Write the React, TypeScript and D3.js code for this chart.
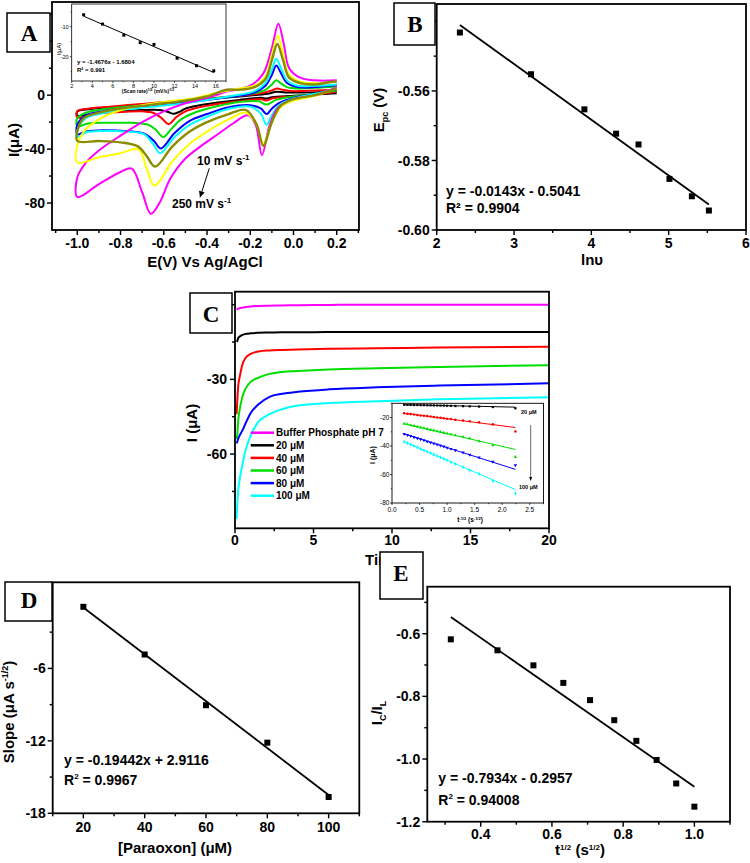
import React from 'react';
import * as d3 from 'd3';

const SANS = "'Liberation Sans', Arial, Helvetica, sans-serif";
const SERIF = "'Liberation Serif', 'Times New Roman', serif";
const MU = 'μ';

// ---------------- Panel A : cyclic voltammograms [E (V), I (uA)] ----------------
// cathodic sweep (0.2 -> -1.0) followed by anodic sweep (-1.0 -> 0.2)
const cvBlack: [number, number][] = [
  [0.2, 1.5], [0.1, 0.5], [0, -0.5], [-0.1, -1.5], [-0.125, -2.5], [-0.15, -2], [-0.25, -3.5], [-0.35, -5.5],
  [-0.45, -8], [-0.5, -10], [-0.53, -12.5], [-0.555, -13.8], [-0.58, -12.5], [-0.62, -11], [-0.7, -11],
  [-0.8, -12], [-0.9, -13], [-1.0, -15],
  [-1.0, -12], [-0.95, -10.5], [-0.85, -9], [-0.7, -7], [-0.55, -5], [-0.4, -3], [-0.25, -1], [-0.12, 1],
  [-0.08, 2.5], [-0.04, 2], [0.05, 2], [0.2, 3],
];
const cvRed: [number, number][] = [
  [0.2, 2.5], [0.1, 0.5], [0, -1], [-0.1, -2.5], [-0.125, -4], [-0.15, -3], [-0.25, -4.5], [-0.35, -6.5],
  [-0.45, -9.5], [-0.5, -12], [-0.54, -16], [-0.578, -21.5], [-0.61, -17], [-0.65, -13], [-0.7, -12],
  [-0.8, -12.5], [-0.9, -13.5], [-1.0, -16.5],
  [-1.0, -12], [-0.95, -10], [-0.85, -8.5], [-0.7, -6.5], [-0.55, -4.5], [-0.4, -2.5], [-0.25, -0.5],
  [-0.15, 1.5], [-0.1, 3.5], [-0.075, 5], [-0.05, 4], [0, 3], [0.1, 3.5], [0.2, 4],
];
const cvGreen: [number, number][] = [
  [0.2, 3.5], [0.1, 1], [0.0, -1], [-0.08, -3.5], [-0.125, -7], [-0.16, -4.5], [-0.25, -5], [-0.35, -8],
  [-0.45, -12.5], [-0.52, -18], [-0.565, -25], [-0.602, -31], [-0.635, -26], [-0.67, -22], [-0.75, -20.5],
  [-0.85, -20.5], [-0.95, -21], [-1.0, -23],
  [-1.0, -17], [-0.96, -13], [-0.9, -11], [-0.8, -9], [-0.65, -7], [-0.5, -5], [-0.4, -3], [-0.28, -1],
  [-0.18, 1.5], [-0.13, 4], [-0.1, 8], [-0.08, 11], [-0.06, 9], [-0.03, 6], [0.02, 5], [0.1, 5.5], [0.2, 6.5],
];
const cvBlue: [number, number][] = [
  [0.2, 4.5], [0.1, 1], [0.0, -2], [-0.07, -6], [-0.1, -10], [-0.125, -14], [-0.15, -10], [-0.2, -7.5],
  [-0.3, -9], [-0.4, -14], [-0.48, -19], [-0.55, -28], [-0.614, -39.5], [-0.645, -34], [-0.69, -28.5],
  [-0.78, -26.5], [-0.88, -26], [-0.96, -27], [-1.0, -29],
  [-1.0, -22], [-0.96, -15], [-0.9, -12.5], [-0.8, -10], [-0.65, -8], [-0.5, -5.5], [-0.4, -3.5], [-0.28, -1],
  [-0.18, 2], [-0.13, 7], [-0.1, 15], [-0.08, 22], [-0.06, 17], [-0.03, 9], [0.02, 6], [0.1, 6], [0.2, 7.5],
];
const cvCyan: [number, number][] = [
  [0.2, 5], [0.1, 1], [0.0, -2.5], [-0.07, -8], [-0.1, -15], [-0.125, -22], [-0.15, -14], [-0.2, -8.5],
  [-0.3, -10], [-0.4, -16], [-0.48, -22], [-0.55, -31], [-0.617, -43], [-0.65, -36], [-0.69, -29],
  [-0.78, -27], [-0.88, -26.5], [-0.96, -27.5], [-1.0, -31],
  [-1.0, -26], [-0.96, -17], [-0.9, -14], [-0.8, -11], [-0.65, -8.5], [-0.5, -6], [-0.4, -3.5], [-0.28, -0.5],
  [-0.18, 3], [-0.13, 9], [-0.1, 19], [-0.08, 27], [-0.06, 21], [-0.03, 11], [0.02, 7], [0.1, 7], [0.2, 8],
];
const cvOlive: [number, number][] = [
  [0.2, 5], [0.1, 0], [0.0, -3], [-0.06, -8], [-0.1, -20], [-0.14, -37.5], [-0.17, -22], [-0.22, -11],
  [-0.3, -14], [-0.4, -20], [-0.48, -27], [-0.56, -38], [-0.64, -53], [-0.68, -45], [-0.72, -38],
  [-0.8, -35], [-0.9, -34], [-1.0, -34],
  [-1.0, -27], [-0.97, -17], [-0.9, -13], [-0.8, -10], [-0.65, -7], [-0.5, -4], [-0.4, -1], [-0.31, 4],
  [-0.25, 4], [-0.18, 6], [-0.13, 12], [-0.1, 26], [-0.075, 38], [-0.05, 27], [-0.02, 13], [0.03, 9],
  [0.1, 8], [0.18, 10], [0.2, 10],
];
const cvYellow: [number, number][] = [
  [0.2, 5], [0.1, -0.5], [0.0, -4], [-0.06, -9], [-0.1, -20], [-0.14, -36], [-0.17, -22], [-0.22, -13],
  [-0.3, -18], [-0.4, -27], [-0.48, -36], [-0.56, -49], [-0.643, -67], [-0.68, -54], [-0.717, -40],
  [-0.8, -43], [-0.9, -46], [-1.0, -50],
  [-1.0, -37], [-0.97, -27], [-0.92, -20], [-0.85, -14], [-0.75, -9], [-0.6, -5], [-0.45, -2], [-0.35, 2],
  [-0.25, 5], [-0.18, 7], [-0.13, 14], [-0.1, 30], [-0.072, 44], [-0.05, 32], [-0.02, 15], [0.03, 10],
  [0.1, 9], [0.2, 10],
];
const cvMagenta: [number, number][] = [
  [0.2, 6], [0.1, 0], [0.0, -3], [-0.07, -9], [-0.11, -22], [-0.146, -44.5], [-0.175, -22], [-0.21, -15],
  [-0.28, -21], [-0.35, -29], [-0.43, -38], [-0.5, -47], [-0.57, -62], [-0.62, -80], [-0.66, -88],
  [-0.7, -72], [-0.748, -54.5], [-0.8, -57], [-0.9, -66], [-1.0, -75.5],
  [-1.0, -61], [-0.96, -50], [-0.9, -41], [-0.8, -30], [-0.7, -20], [-0.6, -12], [-0.5, -6], [-0.4, -2],
  [-0.3, 3], [-0.2, 7], [-0.14, 16], [-0.1, 35], [-0.07, 53], [-0.045, 38], [-0.02, 20], [0.03, 13],
  [0.1, 11], [0.2, 11],
];
const cvSeries = [
  { rate: 10, color: '#000000', pts: cvBlack },
  { rate: 25, color: '#ff0000', pts: cvRed },
  { rate: 50, color: '#00dd00', pts: cvGreen },
  { rate: 75, color: '#0000ff', pts: cvBlue },
  { rate: 100, color: '#00ffff', pts: cvCyan },
  { rate: 250, color: '#ff00ff', pts: cvMagenta },
  { rate: 200, color: '#ffff00', pts: cvYellow },
  { rate: 150, color: '#8b8b00', pts: cvOlive },
];

// Panel A inset
const scanRateSqrt = [3.16, 5.0, 7.07, 8.66, 10.0, 12.25, 14.14, 15.81];
const insetIpc = [-6.0, -9.1, -12.8, -15.3, -15.9, -20.5, -23.0, -24.7];

// ---------------- Panel B ----------------
const lnScanRate = [2.30, 3.22, 3.91, 4.32, 4.61, 5.01, 5.30, 5.52];
const epc = [-0.5432, -0.5552, -0.5653, -0.5723, -0.5754, -0.5853, -0.5903, -0.5944];

// ---------------- Panel C : chronoamperograms ----------------
const chronoTime = [0.1, 0.15, 0.2, 0.3, 0.45, 0.65, 1, 1.5, 2.2, 3, 4, 6, 9, 13, 20];
const iBuffer = [-2, -1.8, -1.6, -1.4, -1.2, -1, -0.7, -0.5, -0.4, -0.3, -0.2, -0.1, 0, 0, 0];
const i20 = [-14.9, -14.5, -13.5, -12.8, -12.2, -11.8, -11.5, -11.3, -11.2, -11.1, -11.1, -11.0, -11.0, -11.0, -11.0];
const i40 = [-44, -38, -33, -29, -24.5, -21.6, -19.8, -18.8, -18.4, -18.2, -18.0, -17.7, -17.5, -17.2, -16.9];
const i60 = [-54, -52, -47, -42, -37.5, -34, -31, -29.3, -27.8, -27, -26.6, -26, -25.5, -25, -24.3];
const i80 = [-55.7, -55, -54, -52.5, -50.8, -48, -43.5, -40, -37, -35.8, -35, -34, -33.2, -32.5, -31.6];
const i100 = [-86, -80, -75, -70, -65, -59, -52.5, -47, -44, -42, -40.5, -39.5, -38.8, -38, -37.2];
const chronoLabels = ['Buffer Phosphate pH 7', '20 μM', '40 μM', '60 μM', '80 μM', '100 μM'];
const chronoColors = ['#ff00ff', '#000000', '#ff0000', '#00dd00', '#0000ff', '#00ffff'];
const chronoSeries = [iBuffer, i20, i40, i60, i80, i100];

// Panel C inset : I vs t^-1/2
const invSqrtT = [0.22, 0.28, 0.34, 0.40, 0.46, 0.52, 0.58, 0.64, 0.70, 0.76, 0.82, 0.88, 0.94, 1.00, 1.07, 1.15, 1.29, 1.41, 1.58, 1.83, 2.24];
const inBlack = [-11.0, -11.1, -11.1, -11.2, -11.2, -11.3, -11.3, -11.4, -11.4, -11.5, -11.5, -11.6, -11.6, -11.7, -11.8, -11.9, -12.0, -12.1, -12.3, -12.6, -13.5];
const inRed = [-17.0, -17.3, -17.6, -17.9, -18.2, -18.5, -18.8, -19.0, -19.3, -19.6, -19.9, -20.2, -20.5, -20.8, -21.1, -21.5, -22.1, -22.6, -23.3, -24.8, -29.8];
const inGreen = [-24.3, -24.8, -25.4, -25.9, -26.4, -27.0, -27.5, -28.0, -28.6, -29.1, -29.6, -30.2, -30.7, -31.3, -31.8, -32.5, -33.6, -34.6, -36.6, -39.5, -47.7];
const inBlue = [-31.5, -32.2, -33.0, -33.8, -34.6, -35.3, -36.0, -36.8, -37.5, -38.2, -39.0, -39.7, -40.4, -41.2, -42.0, -43.0, -44.6, -46.1, -48.0, -51.0, -53.5];
const inCyan = [-37.0, -38.0, -39.0, -40.0, -41.0, -42.0, -43.0, -44.0, -45.0, -46.0, -47.0, -48.0, -49.0, -50.0, -51.3, -52.6, -54.9, -57.0, -59.6, -64.5, -73.2];
const inFitX = [0.22, 2.24];
const inFitY = [[-11.0, -12.7], [-17.0, -27.0], [-24.3, -42.4], [-31.5, -56.4], [-37.0, -70.6]];
const inSeries = [inBlack, inRed, inGreen, inBlue, inCyan];
const inColors = ['#000000', '#ff0000', '#00dd00', '#0000ff', '#00ffff'];

// ---------------- Panel D ----------------
const paraoxon = [20, 40, 60, 80, 100];
const slopeVals = [-0.9, -4.85, -9.05, -12.15, -16.65];

// ---------------- Panel E ----------------
const sqrtT = [0.316, 0.447, 0.548, 0.632, 0.707, 0.775, 0.837, 0.894, 0.949, 1.0];
const icil = [-0.618, -0.653, -0.701, -0.757, -0.812, -0.876, -0.942, -1.003, -1.078, -1.152];

// ---------------- helpers ----------------
type Fr = { x0: number; y0: number; x1: number; y1: number };
type Lin = d3.ScaleLinear<number, number>;

function linfit(xs: number[], ys: number[]) {
  const mx = d3.mean(xs) as number;
  const my = d3.mean(ys) as number;
  let sxy = 0, sxx = 0;
  xs.forEach((x, i) => { sxy += (x - mx) * (ys[i] - my); sxx += (x - mx) * (x - mx); });
  const m = sxy / sxx;
  return { m, b: my - m * mx };
}

function scales(fr: Fr, xd: [number, number], yd: [number, number]) {
  return {
    x: d3.scaleLinear().domain(xd).range([fr.x0, fr.x1]),
    y: d3.scaleLinear().domain(yd).range([fr.y1, fr.y0]),
  };
}

function Axes(p: {
  fr: Fr; x: Lin; y: Lin; xMajor: number[]; xMinor: number[]; yMajor: number[]; yMinor: number[];
  fx: (v: number) => string; fy: (v: number) => string; fs: number; weight?: string;
  tl: number; tm: number; sw: number; xlab: number; ylab: number; yHide?: number[];
}) {
  const { fr, x, y } = p;
  const hide = p.yHide ?? [];
  return (
    <g fontFamily={SANS} fontWeight={p.weight ?? 'bold'} fontSize={p.fs} fill="#000">
      {p.xMinor.map((v) => (
        <line key={'xm' + v} x1={x(v)} x2={x(v)} y1={fr.y1} y2={fr.y1 + p.tm} stroke="#000" strokeWidth={p.sw * 0.8} />
      ))}
      {p.xMajor.map((v) => (
        <g key={'xM' + v}>
          <line x1={x(v)} x2={x(v)} y1={fr.y1} y2={fr.y1 + p.tl} stroke="#000" strokeWidth={p.sw * 0.8} />
          <text x={x(v)} y={fr.y1 + p.xlab} textAnchor="middle">{p.fx(v)}</text>
        </g>
      ))}
      {p.yMinor.map((v) => (
        <line key={'ym' + v} x1={fr.x0 - p.tm} x2={fr.x0} y1={y(v)} y2={y(v)} stroke="#000" strokeWidth={p.sw * 0.8} />
      ))}
      {p.yMajor.map((v) => (
        <g key={'yM' + v}>
          <line x1={fr.x0 - p.tl} x2={fr.x0} y1={y(v)} y2={y(v)} stroke="#000" strokeWidth={p.sw * 0.8} />
          {hide.indexOf(v) < 0 && (
            <text x={fr.x0 - p.ylab} y={y(v) + p.fs * 0.36} textAnchor="end">{p.fy(v)}</text>
          )}
        </g>
      ))}
      <rect x={fr.x0} y={fr.y0} width={fr.x1 - fr.x0} height={fr.y1 - fr.y0} fill="none" stroke="#000" strokeWidth={p.sw} />
    </g>
  );
}

function LabelBox({ fr, letter, cx, base }: { fr: Fr; letter: string; cx: number; base: number }) {
  return (
    <g>
      <rect x={fr.x0} y={fr.y0} width={fr.x1 - fr.x0} height={fr.y1 - fr.y0} fill="#fff" stroke="#000" strokeWidth={1.5} />
      <text x={cx} y={base} textAnchor="middle" fontFamily={SERIF} fontWeight="bold" fontSize={23}>{letter}</text>
    </g>
  );
}

const f0 = (v: number) => v.toFixed(0);
const f1 = (v: number) => v.toFixed(1);
const f2 = (v: number) => v.toFixed(2);

export default function App() {
  // ---------- Panel A ----------
  const frA: Fr = { x0: 52, y0: 2, x1: 359, y1: 230 };
  const A = scales(frA, [-1.117, 0.303], [-100, 69.1]);
  const cvLine = d3.line<[number, number]>().x((d) => A.x(d[0])).y((d) => A.y(d[1])).curve(d3.curveCatmullRom.alpha(0.5));

  const frAi: Fr = { x0: 71.7, y0: 4, x1: 226, y1: 81 };
  const Ai = scales(frAi, [2, 17], [-28.1, -2.4]);
  const fitAi = linfit(scanRateSqrt, insetIpc);
  const aiX0 = d3.min(scanRateSqrt) as number, aiX1 = d3.max(scanRateSqrt) as number;

  // ---------- Panel B ----------
  const frB: Fr = { x0: 436.7, y0: 4, x1: 746, y1: 230 };
  const B = scales(frB, [2, 6], [-0.6, -0.535]);
  const fitB = linfit(lnScanRate, epc);
  const bX0 = d3.min(lnScanRate) as number, bX1 = d3.max(lnScanRate) as number;

  // ---------- Panel C ----------
  const frC: Fr = { x0: 235, y0: 291.7, x1: 549, y1: 528.3 };
  const C = scales(frC, [0, 20], [-89.8, 5.2]);
  const chronoLine = d3.line<number>().x((_, i) => C.x(chronoTime[i])).y((d) => C.y(d)).curve(d3.curveMonotoneX);

  const frCi: Fr = { x0: 392, y0: 403.3, x1: 543.5, y1: 503 };
  const Ci = scales(frCi, [0, 2.75], [-80, -10]);
  const symTypes = [d3.symbolSquare, d3.symbolCircle, d3.symbolTriangle, d3.symbolTriangle, d3.symbolDiamond];
  const symRot = [0, 0, 0, 180, 0];

  // ---------- Panel D ----------
  const frD: Fr = { x0: 52.7, y0: 582.3, x1: 359.3, y1: 813.3 };
  const D = scales(frD, [10, 110], [-18, 1.13]);
  const fitD = linfit(paraoxon, slopeVals);

  // ---------- Panel E ----------
  const frE: Fr = { x0: 427.3, y0: 586.7, x1: 730, y1: 821.7 };
  const E = scales(frE, [0.25, 1.1], [-1.2, -0.45]);
  const fitE = linfit(sqrtT, icil);
  const eX0 = d3.min(sqrtT) as number, eX1 = d3.max(sqrtT) as number;

  // arrow in panel A
  const arS = { x: 209.3, y: 168.3 }, arE = { x: 200, y: 197.3 };
  const ang = Math.atan2(arE.y - arS.y, arE.x - arS.x);
  const ah = 6, aw = 3;
  const head = [
    [arE.x, arE.y],
    [arE.x - ah * Math.cos(ang) + aw * Math.sin(ang), arE.y - ah * Math.sin(ang) - aw * Math.cos(ang)],
    [arE.x - ah * Math.cos(ang) - aw * Math.sin(ang), arE.y - ah * Math.sin(ang) + aw * Math.cos(ang)],
  ].map((p) => p.join(',')).join(' ');

  const ciArX = 530.7;

  return (
    <svg width={750} height={863} style={{ position: 'absolute', left: 0, top: 0 }} fontFamily={SANS}>
      <rect x={0} y={0} width={750} height={863} fill="#fff" />

      {/* ================= Panel A ================= */}
      <g>
        {cvSeries.map((s) => (
          <path key={s.rate} d={cvLine(s.pts) as string} fill="none" stroke={s.color}
            strokeWidth={s.rate === 150 ? 2.4 : 2} strokeLinejoin="round" />
        ))}
        <Axes fr={frA} x={A.x} y={A.y}
          xMajor={[-1.0, -0.8, -0.6, -0.4, -0.2, 0.0, 0.2]} xMinor={[-1.1, -0.9, -0.7, -0.5, -0.3, -0.1, 0.1, 0.3]}
          yMajor={[-80, -40, 0, 40]} yMinor={[-60, -20, 20, 60]} yHide={[40]}
          fx={f1} fy={f0} fs={14} tl={5} tm={3} sw={1.8} xlab={18} ylab={7} />
        <text x={205} y={267} textAnchor="middle" fontWeight="bold" fontSize={15}>E(V) Vs Ag/AgCl</text>
        <text transform="translate(19,140) rotate(-90)" textAnchor="middle" fontWeight="bold" fontSize={15}>{`I(${MU}A)`}</text>

        <text x={197} y={165} fontWeight="bold" fontSize={12}>10 mV s<tspan dy={-5} fontSize={8}>-1</tspan></text>
        <text x={172} y={208} fontWeight="bold" fontSize={12}>250 mV s<tspan dy={-5} fontSize={8}>-1</tspan></text>
        <line x1={arS.x} y1={arS.y} x2={arE.x} y2={arE.y} stroke="#000" strokeWidth={1} />
        <polygon points={head} fill="#000" />

        {/* inset */}
        <rect x={frAi.x0} y={frAi.y0} width={frAi.x1 - frAi.x0} height={frAi.y1 - frAi.y0} fill="#fff" />
        <line x1={Ai.x(aiX0)} y1={Ai.y(fitAi.m * aiX0 + fitAi.b)} x2={Ai.x(aiX1)} y2={Ai.y(fitAi.m * aiX1 + fitAi.b)}
          stroke="#000" strokeWidth={1} />
        {scanRateSqrt.map((v, i) => (
          <rect key={i} x={Ai.x(v) - 1.5} y={Ai.y(insetIpc[i]) - 1.5} width={3} height={3} fill="#000" />
        ))}
        <Axes fr={frAi} x={Ai.x} y={Ai.y}
          xMajor={[2, 4, 6, 8, 10, 12, 14, 16]} xMinor={[3, 5, 7, 9, 11, 13, 15, 17]}
          yMajor={[-10, -20]} yMinor={[-5, -15, -25]}
          fx={f0} fy={f0} fs={5.5} weight="normal" tl={2} tm={1.2} sw={0.8} xlab={7} ylab={3} />
        <text x={77} y={64} fontWeight="bold" fontSize={6}>y = -1.4676x - 1.6804</text>
        <text x={77} y={72.3} fontWeight="bold" fontSize={6}>R² = 0.991</text>
        <text x={148} y={93} textAnchor="middle" fontWeight="bold" fontSize={5}>
          (Scan rate)<tspan dy={-2} fontSize={3.5}>1/2</tspan><tspan dy={2}> (mV/s)</tspan><tspan dy={-2} fontSize={3.5}>1/2</tspan>
        </text>
        <text transform="translate(60.5,49) rotate(-90)" textAnchor="middle" fontSize={5.5}>{`I(${MU}A)`}</text>
      </g>

      {/* ================= Panel B ================= */}
      <g>
        <line x1={B.x(bX0)} y1={B.y(fitB.m * bX0 + fitB.b)} x2={B.x(bX1)} y2={B.y(fitB.m * bX1 + fitB.b)}
          stroke="#000" strokeWidth={1.8} />
        {lnScanRate.map((v, i) => (
          <rect key={i} x={B.x(v) - 3} y={B.y(epc[i]) - 3} width={6} height={6} fill="#000" />
        ))}
        <Axes fr={frB} x={B.x} y={B.y}
          xMajor={[2, 3, 4, 5, 6]} xMinor={[2.5, 3.5, 4.5, 5.5]}
          yMajor={[-0.6, -0.58, -0.56, -0.54]} yMinor={[-0.59, -0.57, -0.55]} yHide={[-0.54]}
          fx={f0} fy={f2} fs={14} tl={5} tm={3} sw={1.8} xlab={18} ylab={7} />
        <text x={446} y={196} fontWeight="bold" fontSize={14}>y = -0.0143x - 0.5041</text>
        <text x={446} y={213} fontWeight="bold" fontSize={14}>R² = 0.9904</text>
        <text x={592} y={265} textAnchor="middle" fontWeight="bold" fontSize={15}>lnυ</text>
        <text transform="translate(384,110) rotate(-90)" textAnchor="middle" fontWeight="bold" fontSize={15}>
          E<tspan dy={4} fontSize={9}>pc</tspan><tspan dy={-4}> (V)</tspan>
        </text>
      </g>

      {/* ================= Panel C ================= */}
      <g>
        {chronoSeries.map((s, i) => (
          <path key={i} d={chronoLine(s) as string} fill="none" stroke={chronoColors[i]} strokeWidth={2} />
        ))}
        <Axes fr={frC} x={C.x} y={C.y}
          xMajor={[0, 5, 10, 15, 20]} xMinor={[2.5, 7.5, 12.5, 17.5]}
          yMajor={[-60, -30, 0]} yMinor={[-75, -45, -15]} yHide={[0]}
          fx={f0} fy={f0} fs={14} tl={5} tm={3} sw={1.8} xlab={17} ylab={8} />
        <text x={365} y={565} fontWeight="bold" fontSize={15}>Time (s)</text>
        <text transform="translate(197,423) rotate(-90)" textAnchor="middle" fontWeight="bold" fontSize={15}>{`I (${MU}A)`}</text>
        {chronoLabels.map((lab, i) => {
          const yy = 432.7 + i * 12.6;
          return (
            <g key={lab}>
              <line x1={250.7} x2={274} y1={yy} y2={yy} stroke={chronoColors[i]} strokeWidth={2.5} />
              <text x={276} y={yy + 3.6} fontWeight="bold" fontSize={10}>{lab}</text>
            </g>
          );
        })}

        {/* inset */}
        <rect x={frCi.x0} y={frCi.y0} width={frCi.x1 - frCi.x0} height={frCi.y1 - frCi.y0} fill="#fff" />
        {inFitY.map((fy, i) => (
          <line key={'fit' + i} x1={Ci.x(inFitX[0])} y1={Ci.y(fy[0])} x2={Ci.x(inFitX[1])} y2={Ci.y(fy[1])}
            stroke={inColors[i]} strokeWidth={1} />
        ))}
        {inSeries.map((s, k) => (
          <g key={'pts' + k} fill={inColors[k]}>
            {s.map((v, i) => (
              <path key={i} d={d3.symbol().type(symTypes[k]).size(5)() as string}
                transform={`translate(${Ci.x(invSqrtT[i])},${Ci.y(v)}) rotate(${symRot[k]})`} />
            ))}
          </g>
        ))}
        <Axes fr={frCi} x={Ci.x} y={Ci.y}
          xMajor={[0, 0.5, 1.0, 1.5, 2.0, 2.5]} xMinor={[0.25, 0.75, 1.25, 1.75, 2.25, 2.75]}
          yMajor={[-20, -40, -60, -80]} yMinor={[-10, -30, -50, -70]}
          fx={f1} fy={f0} fs={6.5} weight="normal" tl={2} tm={1.2} sw={0.9} xlab={8.5} ylab={2.5} />
        <text x={470} y={522} textAnchor="middle" fontWeight="bold" fontSize={6.5}>
          t<tspan dy={-2.5} fontSize={4}>-1/2</tspan><tspan dy={2.5}> (s</tspan><tspan dy={-2.5} fontSize={4}>-1/2</tspan><tspan dy={2.5}>)</tspan>
        </text>
        <text transform="translate(374.5,455) rotate(-90)" textAnchor="middle" fontWeight="bold" fontSize={7}>{`I (${MU}A)`}</text>
        <text x={521} y={413.5} fontWeight="bold" fontSize={5.5}>{`20 ${MU}M`}</text>
        <text x={519} y={489} fontWeight="bold" fontSize={5.5}>{`100 ${MU}M`}</text>
        <line x1={ciArX} x2={ciArX} y1={425} y2={478} stroke="#000" strokeWidth={0.6} />
        <polygon points={`${ciArX},481 ${ciArX - 1.5},477 ${ciArX + 1.5},477`} fill="#000" />
      </g>

      {/* ================= Panel D ================= */}
      <g>
        <line x1={D.x(20)} y1={D.y(fitD.m * 20 + fitD.b)} x2={D.x(100)} y2={D.y(fitD.m * 100 + fitD.b)}
          stroke="#000" strokeWidth={1.8} />
        {paraoxon.map((v, i) => (
          <rect key={i} x={D.x(v) - 3} y={D.y(slopeVals[i]) - 3} width={6} height={6} fill="#000" />
        ))}
        <Axes fr={frD} x={D.x} y={D.y}
          xMajor={[20, 40, 60, 80, 100]} xMinor={[10, 30, 50, 70, 90, 110]}
          yMajor={[-18, -12, -6, 0]} yMinor={[-15, -9, -3]} yHide={[0]}
          fx={f0} fy={f0} fs={14} tl={5} tm={3} sw={1.8} xlab={19} ylab={7} />
        <text x={64} y={765} fontWeight="bold" fontSize={14}>y = -0.19442x + 2.9116</text>
        <text x={64} y={785} fontWeight="bold" fontSize={14}>R<tspan dy={-6} fontSize={8}>2</tspan><tspan dy={6}> = 0.9967</tspan></text>
        <text x={175} y={853} textAnchor="middle" fontWeight="bold" fontSize={15}>{`[Paraoxon] (${MU}M)`}</text>
        <text transform="translate(14,712) rotate(-90)" textAnchor="middle" fontWeight="bold" fontSize={15}>
          {`Slope (${MU}A s`}<tspan dy={-6} fontSize={9}>-1/2</tspan><tspan dy={6}>)</tspan>
        </text>
      </g>

      {/* ================= Panel E ================= */}
      <g>
        <line x1={E.x(eX0)} y1={E.y(fitE.m * eX0 + fitE.b)} x2={E.x(eX1)} y2={E.y(fitE.m * eX1 + fitE.b)}
          stroke="#000" strokeWidth={1.8} />
        {sqrtT.map((v, i) => (
          <rect key={i} x={E.x(v) - 3} y={E.y(icil[i]) - 3} width={6} height={6} fill="#000" />
        ))}
        <Axes fr={frE} x={E.x} y={E.y}
          xMajor={[0.4, 0.6, 0.8, 1.0]} xMinor={[0.3, 0.5, 0.7, 0.9, 1.1]}
          yMajor={[-1.2, -1.0, -0.8, -0.6]} yMinor={[-1.1, -0.9, -0.7, -0.5]}
          fx={f1} fy={f1} fs={14} tl={5} tm={3} sw={1.8} xlab={17.5} ylab={7} />
        <text x={438.3} y={783} fontWeight="bold" fontSize={14}>y = -0.7934x - 0.2957</text>
        <text x={438.3} y={805} fontWeight="bold" fontSize={14}>R<tspan dy={-6} fontSize={8}>2</tspan><tspan dy={6}> = 0.94008</tspan></text>
        <text x={580} y={855} textAnchor="middle" fontWeight="bold" fontSize={15}>
          t<tspan dy={-5} fontSize={8}>1/2</tspan><tspan dy={5}> (s</tspan><tspan dy={-5} fontSize={8}>1/2</tspan><tspan dy={5}>)</tspan>
        </text>
        <text transform="translate(382,713) rotate(-90)" textAnchor="middle" fontWeight="bold" fontSize={15}>
          I<tspan dy={4} fontSize={9}>C</tspan><tspan dy={-4}>/I</tspan><tspan dy={4} fontSize={9}>L</tspan>
        </text>
      </g>

      {/* panel label boxes */}
      <LabelBox fr={{ x0: 7, y0: 13, x1: 50, y1: 52 }} letter="A" cx={29} base={41} />
      <LabelBox fr={{ x0: 394, y0: 3, x1: 435, y1: 45 }} letter="B" cx={415} base={31.5} />
      <LabelBox fr={{ x0: 190, y0: 293, x1: 232, y1: 333 }} letter="C" cx={211} base={321.5} />
      <LabelBox fr={{ x0: 5, y0: 582, x1: 52, y1: 621 }} letter="D" cx={29} base={608} />
      <LabelBox fr={{ x0: 380, y0: 552, x1: 423, y1: 599 }} letter="E" cx={401} base={581} />
    </svg>
  );
}
